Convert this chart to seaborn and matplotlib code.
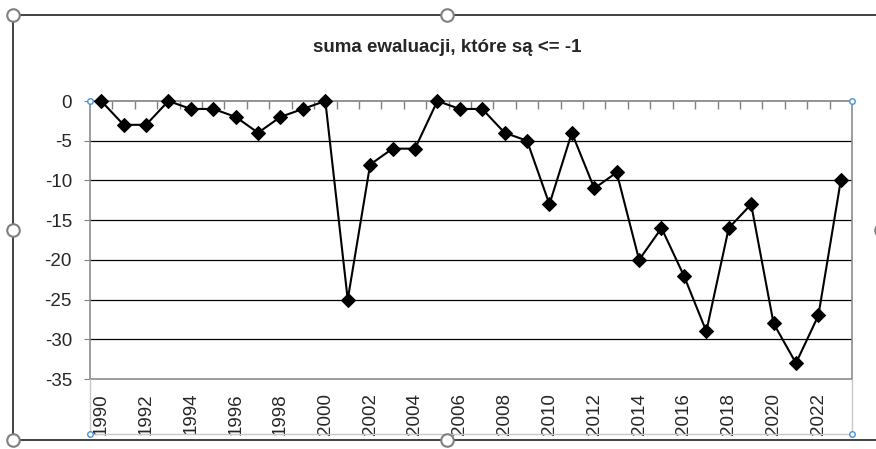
import matplotlib
matplotlib.use("Agg")
import matplotlib.pyplot as plt
import seaborn as sns
import pandas as pd
from matplotlib.lines import Line2D

years = list(range(1990, 2024))
values = [0, -3, -3, 0, -1, -1, -2, -4, -2, -1,
          0, -25, -8, -6, -6, 0, -1, -1, -4, -5,
          -13, -4, -11, -9, -20, -16, -22, -29, -16, -13,
          -28, -33, -27, -10]
title = "suma ewaluacji, które są <= -1"

df = pd.DataFrame({"rok": years, "suma": values})

sns.set_style("white")
plt.rcParams['font.family'] = ['Liberation Sans', 'DejaVu Sans']

W, H = 876, 449
fig = plt.figure(figsize=(W / 100, H / 100), dpi=100)

def fx(px):
    return px / W

def fy(py):
    return 1 - py / H

ax = fig.add_axes([fx(90), fy(379), fx(852) - fx(90), fy(101) - fy(379)])

# horizontal grid
for v in range(-30, 0, 5):
    ax.axhline(v, color="black", lw=0.9, zorder=1)

sns.lineplot(data=df, x="rok", y="suma", color="black", lw=1.5,
             marker="D", markersize=7, markeredgecolor="black", ax=ax, zorder=3,
             clip_on=False)

ax.set_xlim(1989.5, 2023.5)
ax.set_ylim(-35, 0)
ax.set_yticks(range(-35, 1, 5))
ax.set_yticklabels([str(v) for v in range(-35, 1, 5)], fontsize=13.5)
ax.set_xlabel("")
ax.set_ylabel("")

for s in ax.spines.values():
    s.set_color("#8c8c8c")
    s.set_linewidth(1.2)
ax.spines["top"].set_color("#808080")

# labels at bottom, tick marks on the axis line at y=0
ax.set_xticks(years[::2])
ax.set_xticklabels([str(y) for y in years[::2]], rotation=90, fontsize=13.5)
ax.set_xticks([y + 0.5 for y in years[:-1]], minor=True)
ax.tick_params(axis="x", which="major", length=0, pad=10)
ax.tick_params(axis="x", which="minor", top=True, bottom=False, direction="in",
               length=6, color="#808080", width=1)
ax.tick_params(axis="y", which="major", left=True, length=4, color="#808080",
               pad=9)
for lab in ax.get_xticklabels():
    lab.set_horizontalalignment("center")

fig.text(fx(447), fy(47), title, ha="center", va="center",
         fontsize=13.5, fontweight="bold")

# label area frame (plot area selection)
light = "#c8c8c8"
fig.add_artist(Line2D([fx(90), fx(90)], [fy(379), fy(434)], color=light, lw=1))
fig.add_artist(Line2D([fx(852), fx(852)], [fy(379), fy(434)], color=light, lw=1))
fig.add_artist(Line2D([fx(90), fx(852)], [fy(434), fy(434)], color=light, lw=1))
for (px, py) in [(90, 101), (852, 101), (90, 434), (852, 434)]:
    fig.add_artist(Line2D([fx(px)], [fy(py)], marker="o", markersize=4,
                          markerfacecolor="white", markeredgecolor="#4a90d9",
                          markeredgewidth=1, zorder=10))

# chart selection frame
dark = "#333333"
fig.add_artist(Line2D([fx(13), fx(876)], [fy(15), fy(15)], color=dark, lw=1.3))
fig.add_artist(Line2D([fx(13), fx(876)], [fy(440), fy(440)], color=dark, lw=1.3))
fig.add_artist(Line2D([fx(13), fx(13)], [fy(15), fy(440)], color=dark, lw=1.3))
for (px, py) in [(13, 15), (447, 15), (13, 230), (13, 440), (447, 440), (881, 230)]:
    fig.add_artist(Line2D([fx(px)], [fy(py)], marker="o", markersize=9,
                          markerfacecolor="white", markeredgecolor="#7f7f7f",
                          markeredgewidth=1.5, zorder=10))

fig.savefig("out.png", dpi=100)
